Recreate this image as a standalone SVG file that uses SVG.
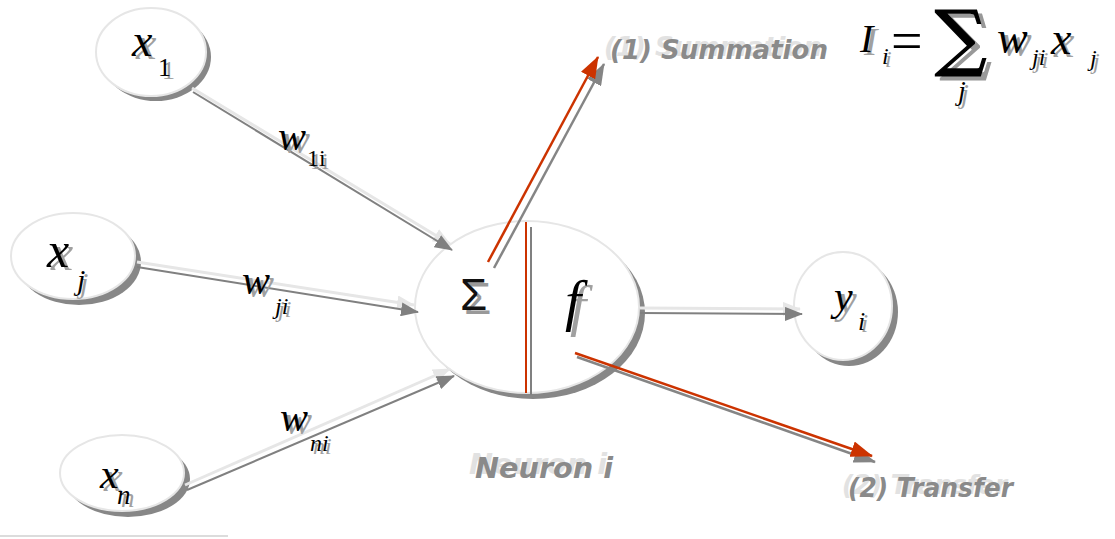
<svg xmlns="http://www.w3.org/2000/svg" width="1115" height="539" viewBox="0 0 1115 539">
<defs>
<style>
.m{font-family:"Liberation Serif","Times New Roman",serif;font-style:italic}
.r{font-family:"Liberation Serif","Times New Roman",serif}
.k{fill:#000}
.s{fill:#a0a0a0}
.lab{font-family:"DejaVu Sans",Verdana,sans-serif;font-weight:bold;font-style:italic}
.lt{fill:#e2e2e2}
.dk{fill:#8a8a8a}
.node{fill:#fff;stroke:#e6e6e6;stroke-width:2}
.shadow{fill:#878787}
.cl{stroke:#e6e6e6;stroke-width:3;fill:none}
.cd{stroke:#808080;stroke-width:2;fill:none}
.rd{stroke:#cc3300;stroke-width:2.5;fill:none}
.rg{stroke:#858585;stroke-width:2.5;fill:none}
</style>
<marker id="aL" markerUnits="userSpaceOnUse" markerWidth="18" markerHeight="14" refX="17" refY="7" orient="auto"><path d="M0,0 L18,7 L0,14 z" fill="#e6e6e6"/></marker>
<marker id="aD" markerUnits="userSpaceOnUse" markerWidth="18" markerHeight="14" refX="17" refY="7" orient="auto"><path d="M0,0 L18,7 L0,14 z" fill="#808080"/></marker>
<marker id="aR" markerUnits="userSpaceOnUse" markerWidth="22" markerHeight="16" refX="21" refY="8" orient="auto"><path d="M0,0 L22,8 L0,16 z" fill="#cc3300"/></marker>
<marker id="aG" markerUnits="userSpaceOnUse" markerWidth="22" markerHeight="16" refX="21" refY="8" orient="auto"><path d="M0,0 L22,8 L0,16 z" fill="#858585"/></marker>
</defs>
<rect width="1115" height="539" fill="#fff"/>
<line x1="0" y1="536" x2="228" y2="536" stroke="#d0d0d0" stroke-width="1.5"/>

<g id="x1">
<ellipse class="shadow" cx="156" cy="57" rx="55" ry="44"/>
<ellipse class="node" cx="151" cy="52" rx="55" ry="44"/>
<text class="m s" x="136" y="59" font-size="46">x</text>
<text class="m k" x="132" y="56" font-size="46">x</text>
<text class="r s" x="162" y="79" font-size="26">1</text>
<text class="r k" x="158" y="76" font-size="26">1</text>
</g>

<g id="xj">
<ellipse class="shadow" cx="79" cy="262" rx="62" ry="43"/>
<ellipse class="node" cx="73" cy="256" rx="62" ry="43"/>
<text class="m s" x="51" y="270" font-size="50">x</text>
<text class="m k" x="47" y="267" font-size="50">x</text>
<text class="m s" x="80" y="293" font-size="30">j</text>
<text class="m k" x="77" y="290" font-size="30">j</text>
</g>

<g id="xn">
<ellipse class="shadow" cx="128" cy="479" rx="62" ry="38"/>
<ellipse class="node" cx="122" cy="473" rx="62" ry="38"/>
<text class="m s" x="104" y="491" font-size="42">x</text>
<text class="m k" x="100" y="488" font-size="42">x</text>
<text class="m s" x="121" y="507" font-size="27">n</text>
<text class="m k" x="117" y="504" font-size="27">n</text>
</g>

<g id="neuron">
<ellipse class="shadow" cx="533" cy="313" rx="112" ry="86"/>
<ellipse class="node" cx="527" cy="307" rx="112" ry="86"/>
<line x1="526" y1="222" x2="526" y2="393" stroke="#cc3300" stroke-width="2"/>
<line x1="531" y1="227" x2="531" y2="395" stroke="#808080" stroke-width="2"/>
<text x="464" y="314" font-size="44" font-family="Liberation Sans,Arial,sans-serif" fill="#999">Σ</text>
<text x="460" y="310" font-size="44" font-family="Liberation Sans,Arial,sans-serif" fill="#111">Σ</text>
<text class="m s" x="570" y="325" font-size="58">f</text>
<text class="m k" x="565" y="320" font-size="58">f</text>
</g>

<g id="yi">
<ellipse class="shadow" cx="849" cy="312" rx="49" ry="54"/>
<ellipse class="node" cx="843" cy="306" rx="49" ry="54"/>
<text class="m s" x="838" y="313" font-size="42">y</text>
<text class="m k" x="834" y="310" font-size="42">y</text>
<text class="m s" x="861" y="332" font-size="26">i</text>
<text class="m k" x="858" y="330" font-size="26">i</text>
</g>

<g id="connectors">
<line class="cl" x1="192" y1="88" x2="450" y2="244" marker-end="url(#aL)"/>
<line class="cd" x1="193" y1="92" x2="452" y2="250" marker-end="url(#aD)"/>
<line class="cl" x1="137" y1="262" x2="414" y2="305" marker-end="url(#aL)"/>
<line class="cd" x1="137" y1="267" x2="418" y2="312" marker-end="url(#aD)"/>
<line class="cl" x1="185" y1="485" x2="450" y2="369" marker-end="url(#aL)"/>
<line class="cd" x1="187" y1="490" x2="454" y2="376" marker-end="url(#aD)"/>
<line class="cl" x1="640" y1="308" x2="800" y2="309" marker-end="url(#aL)"/>
<line class="cd" x1="640" y1="313" x2="802" y2="314" marker-end="url(#aD)"/>
<line class="rg" x1="494" y1="268" x2="604" y2="64" marker-end="url(#aG)"/>
<line class="rd" x1="488" y1="262" x2="598" y2="57" marker-end="url(#aR)"/>
<line class="rg" x1="577" y1="357" x2="875" y2="462" marker-end="url(#aG)"/>
<line class="rd" x1="575" y1="353" x2="872" y2="456" marker-end="url(#aR)"/>
</g>

<g id="weights">
<text class="m s" x="282" y="153" font-size="42">w</text>
<text class="m k" x="278" y="150" font-size="42">w</text>
<text class="r s" x="310" y="169" font-size="24">1i</text>
<text class="r k" x="307" y="166" font-size="24">1i</text>
<text class="m s" x="246" y="297" font-size="42">w</text>
<text class="m k" x="242" y="294" font-size="42">w</text>
<text class="m s" x="278" y="317" font-size="24">ji</text>
<text class="m k" x="275" y="314" font-size="24">ji</text>
<text class="m s" x="284" y="434" font-size="42">w</text>
<text class="m k" x="280" y="431" font-size="42">w</text>
<text class="m s" x="313" y="454" font-size="24">ni</text>
<text class="m k" x="310" y="451" font-size="24">ni</text>
</g>

<g id="labels">
<text class="lab lt" x="604" y="56" font-size="26" textLength="218" lengthAdjust="spacingAndGlyphs">(1) Summation</text>
<text class="lab dk" x="610" y="59" font-size="26" textLength="218" lengthAdjust="spacingAndGlyphs">(1) Summation</text>
<text class="lab lt" x="469" y="474" font-size="28" textLength="138" lengthAdjust="spacingAndGlyphs">Neuron i</text>
<text class="lab dk" x="475" y="478" font-size="28" textLength="138" lengthAdjust="spacingAndGlyphs">Neuron i</text>
<text class="lab lt" x="842" y="494" font-size="26" textLength="165" lengthAdjust="spacingAndGlyphs">(2) Transfer</text>
<text class="lab dk" x="848" y="497" font-size="26" textLength="165" lengthAdjust="spacingAndGlyphs">(2) Transfer</text>
</g>

<g id="formula">
<text class="m s" x="864" y="55" font-size="40">I</text>
<text class="m k" x="860" y="52" font-size="40">I</text>
<text class="m s" x="885" y="67" font-size="24">i</text>
<text class="m k" x="882" y="64" font-size="24">i</text>
<text class="r k" x="891" y="60" font-size="56">=</text>
<text x="940" y="66" font-size="72" font-family="DejaVu Serif,serif" fill="#999" stroke="#999" stroke-width="1.5">∑</text>
<text x="935" y="62" font-size="72" font-family="DejaVu Serif,serif" fill="#000" stroke="#000" stroke-width="1.5">∑</text>
<text class="m s" x="961" y="103" font-size="28">j</text>
<text class="m k" x="958" y="100" font-size="28">j</text>
<text class="m s" x="1001" y="56" font-size="46">w</text>
<text class="m k" x="997" y="53" font-size="46">w</text>
<text class="m s" x="1035" y="68" font-size="24">ji</text>
<text class="m k" x="1032" y="65" font-size="24">ji</text>
<text class="m s" x="1054" y="57" font-size="46">x</text>
<text class="m k" x="1051" y="54" font-size="46">x</text>
<text class="m s" x="1093" y="69" font-size="24">j</text>
<text class="m k" x="1090" y="66" font-size="24">j</text>
</g>
</svg>
